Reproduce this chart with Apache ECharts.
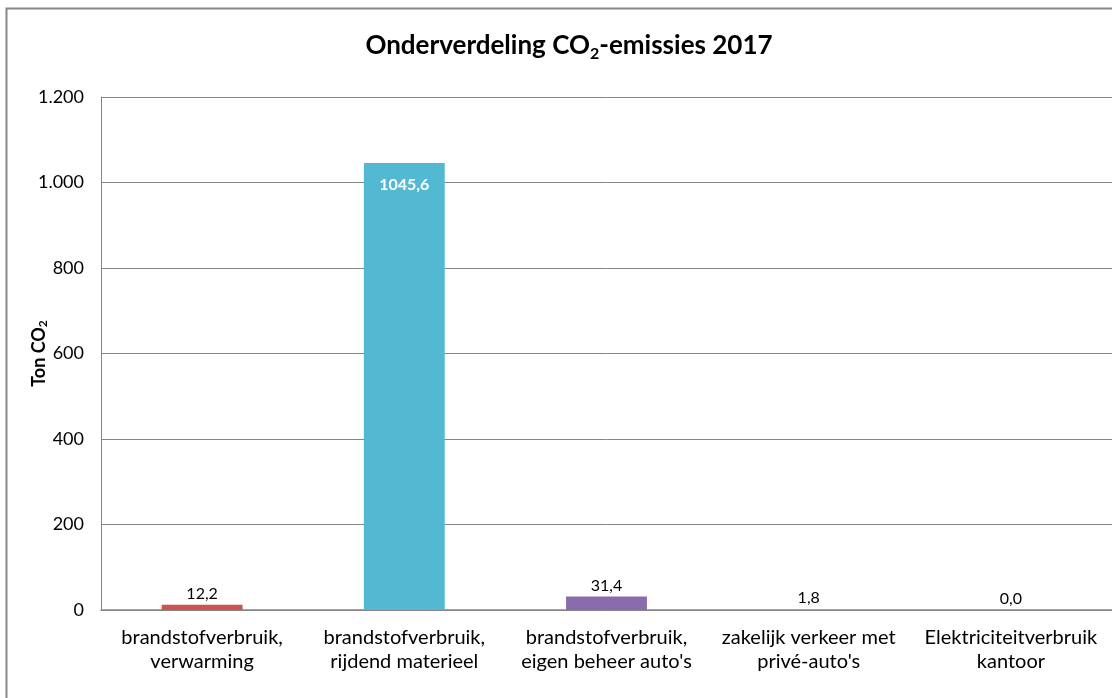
<!DOCTYPE html>
<html><head><meta charset="utf-8">
<script src="https://cdn.jsdelivr.net/npm/echarts@6/dist/echarts.min.js"></script>
<style>html,body{margin:0;padding:0;background:#fff;}#c{width:1112px;height:698px;}</style>
</head><body><div id="c"></div>
<script>
const categories = ['brandstofverbruik,\nverwarming','brandstofverbruik,\nrijdend materieel','brandstofverbruik,\neigen beheer auto\'s','zakelijk verkeer met\nprivé-auto\'s','Elektriciteitverbruik\nkantoor'];
const values = [12.2, 1045.6, 31.4, 1.8, 0.0];
const colors = ['#CC5350','#53B9D3','#8A6BAB','#9BBB59','#F79646'];
const yTicks = {min:0, max:1200, interval:200};

const FONT = 'Lato';
const fmtNL = v => v.toFixed(1).replace('.', ',');
const fmtTick = v => String(v).replace(/\B(?=(\d{3})+(?!\d))/g, '.');

const chart = echarts.init(document.getElementById('c'));
chart.setOption({
  animation:false,
  textStyle:{fontFamily:FONT},
  title:{
    text:'{a|Onderverdeling CO}{s|2}{a|-emissies 2017}',
    left:564, top:24, textAlign:'center',
    textStyle:{rich:{
      a:{fontFamily:FONT,fontSize:26,fontWeight:'bold',color:'#000',lineHeight:34},
      s:{fontFamily:FONT,fontSize:16,fontWeight:'bold',color:'#000',lineHeight:34,padding:[16,0,0,0]}
    }}
  },
  graphic:[{type:'rect',shape:{x:6.5,y:8.5,width:1200,height:800},style:{fill:'none',stroke:'#888',lineWidth:2},silent:true}],
  grid:{left:101,top:97,right:-4,bottom:88,containLabel:false},
  xAxis:{type:'category',data:categories,
    axisLine:{lineStyle:{color:'#868686',width:1.5}},
    axisTick:{show:false},
    axisLabel:{fontFamily:FONT,fontSize:20,color:'#000',lineHeight:24,margin:16,interval:0}
  },
  yAxis:{type:'value',min:yTicks.min,max:yTicks.max,interval:yTicks.interval,
    name:'{a|Ton CO}{s|2}',nameLocation:'middle',nameGap:51,nameRotate:90,nameMoveOverlap:false,
    nameTextStyle:{rich:{
      a:{fontFamily:FONT,fontSize:18,fontWeight:'bold',color:'#000',lineHeight:22},
      s:{fontFamily:FONT,fontSize:12,fontWeight:'bold',color:'#000',lineHeight:22,padding:[9,0,0,0]}
    }},
    axisLine:{show:true,lineStyle:{color:'#868686'}},
    axisTick:{show:false},
    splitLine:{lineStyle:{color:'#868686',width:1}},
    axisLabel:{fontFamily:FONT,fontSize:18,color:'#000',margin:17,formatter:fmtTick}
  },
  series:[{type:'bar',barWidth:'40%',
    data:values.map((v,i)=>({value:v,itemStyle:{color:colors[i]},
      label: i===1 ? {position:'insideTop',distance:14,color:'#fff',fontWeight:'bold',fontSize:16} : undefined})),
    label:{show:true,position:'top',distance:3,fontFamily:FONT,fontSize:16,color:'#000',formatter:p=>fmtNL(p.value)}
  }]
});
</script></body></html>
